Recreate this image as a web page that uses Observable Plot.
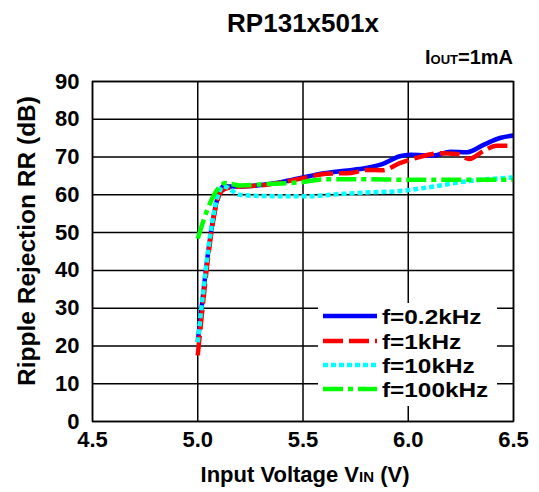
<!DOCTYPE html>
<html><head><meta charset="utf-8">
<script src="https://cdn.jsdelivr.net/npm/d3@7"></script>
<script src="https://cdn.jsdelivr.net/npm/@observablehq/plot@0.6"></script>
<style>body{margin:0;background:#fff;} svg{display:block;}</style>
</head><body><div id="chart"></div>
<script>
// ---- data ----
const xTicks = [4.5, 5.0, 5.5, 6.0, 6.5];
const yTicks = [0, 10, 20, 30, 40, 50, 60, 70, 80, 90];
const seriesNames = ["f=0.2kHz", "f=1kHz", "f=10kHz", "f=100kHz"];
const seriesColors = ["#0000ff", "#ff0000", "#00ffff", "#00ff00"];
const seriesDash = ["none", "20,6", "5,3", "20,5,5,5"];

const vin02 = [5.00, 5.105, 5.12, 5.15, 5.2, 5.3, 5.4, 5.5, 5.6, 5.7, 5.8, 5.88, 5.96, 6.01, 6.12, 6.2, 6.28, 6.36, 6.44, 6.5];
const rr02  = [21.0, 61.0, 62.3, 62.2, 62.2, 62.6, 63.4, 64.6, 65.7, 66.4, 67.1, 68.2, 70.2, 70.6, 70.4, 71.4, 71.3, 73.3, 75.1, 75.7];

const vin1 = [5.00, 5.105, 5.13, 5.2, 5.3, 5.4, 5.5, 5.61, 5.73, 5.805, 5.88, 5.96, 6.04, 6.15, 6.23, 6.29, 6.36, 6.42, 6.5];
const rr1  = [17.5, 60.3, 61.6, 62.2, 62.5, 63.3, 64.4, 65.6, 65.8, 66.6, 66.5, 68.4, 69.8, 71.0, 70.8, 69.5, 71.7, 73.0, 73.0];

const vin10 = [5.00, 5.10, 5.12, 5.2, 5.3, 5.5, 5.68, 5.8, 5.96, 6.12, 6.28, 6.5];
const rr10  = [21.0, 60.5, 62.3, 60.0, 59.7, 59.6, 60.2, 60.6, 61.0, 62.2, 63.6, 64.6];

const vin100 = [5.00, 5.06, 5.11, 5.13, 5.2, 5.31, 5.5, 5.6, 5.8, 6.0, 6.25, 6.5];
const rr100  = [48.4, 58.0, 62.5, 63.1, 62.5, 62.8, 63.4, 64.1, 64.1, 64.0, 64.0, 64.0];

const seriesX = [vin02, vin1, vin10, vin100];
const seriesY = [rr02, rr1, rr10, rr100];

const series = seriesNames.map((name, k) => ({
  name, color: seriesColors[k], dash: seriesDash[k],
  rows: seriesX[k].map((v, i) => ({vin: v, rr: seriesY[k][i]}))
}));

const FONT = "'Liberation Sans', Arial, Helvetica, sans-serif";
const W = 539, H = 492;
const mL = 92, mR = 26, mT = 81, mB = 71;

const plot = Plot.plot({
  width: W, height: H,
  marginLeft: mL, marginRight: mR, marginTop: mT, marginBottom: mB,
  style: {fontFamily: FONT, background: "white", color: "black", overflow: "visible"},
  x: {domain: [4.5, 6.5]},
  y: {domain: [0, 90]},
  marks: [
    Plot.gridX(xTicks, {stroke: "black", strokeOpacity: 1, strokeWidth: 1.5}),
    Plot.gridY(yTicks, {stroke: "black", strokeOpacity: 1, strokeWidth: 1.5}),
    Plot.axisX(xTicks, {tickSize: 0, tickPadding: 10, tickFormat: d => d.toFixed(1), label: null, fontSize: 22, fontWeight: "bold"}),
    Plot.axisY(yTicks, {tickSize: 0, tickPadding: 13, label: null, fontSize: 22, fontWeight: "bold"}),
    ...series.map(s => Plot.line(s.rows, {
      x: "vin", y: "rr", stroke: s.color, strokeWidth: 4.5,
      strokeDasharray: s.dash, strokeLinecap: "butt", curve: "monotone-x"
    })),
    Plot.frame({stroke: "black", strokeWidth: 1.5})
  ]
});

const svg = d3.select(plot);

// Title
svg.append("text").attr("x", 303).attr("y", 32).attr("text-anchor", "middle")
  .style("font", `bold 26px ${FONT}`).text("RP131x501x");

// Iout label
const io = svg.append("text").attr("x", 513).attr("y", 64).attr("text-anchor", "end")
  .style("font", `bold 20px ${FONT}`);
io.append("tspan").text("I");
io.append("tspan").style("font-size", "13px").text("OUT");
io.append("tspan").text("=1mA");

// X axis title
const xt = svg.append("text").attr("x", 305).attr("y", 482).attr("text-anchor", "middle")
  .style("font", `bold 22px ${FONT}`);
xt.append("tspan").text("Input Voltage V");
xt.append("tspan").style("font-size", "15px").text("IN");
xt.append("tspan").text(" (V)");

// Y axis title
svg.append("text").attr("transform", "translate(35,241) rotate(-90)").attr("text-anchor", "middle")
  .style("font", `bold 24.5px ${FONT}`)
  .text("Ripple Rejection RR (dB)");

// Legend
const lg = svg.append("g");
lg.append("rect").attr("x", 318).attr("y", 303).attr("width", 179).attr("height", 103).attr("fill", "white");
const rowY = [316, 341, 365, 389];
series.forEach((s, k) => {
  lg.append("line").attr("x1", 323).attr("x2", 377).attr("y1", rowY[k]).attr("y2", rowY[k])
    .attr("stroke", s.color).attr("stroke-width", 4.5).attr("stroke-dasharray", s.dash === "none" ? null : s.dash);
  lg.append("text").attr("transform", `translate(382,${rowY[k] + 7.5}) scale(1.16,1)`).attr("text-anchor", "start")
    .style("font", `bold 21px ${FONT}`).text(s.name);
});

document.getElementById("chart").appendChild(plot);
</script>
</body></html>
